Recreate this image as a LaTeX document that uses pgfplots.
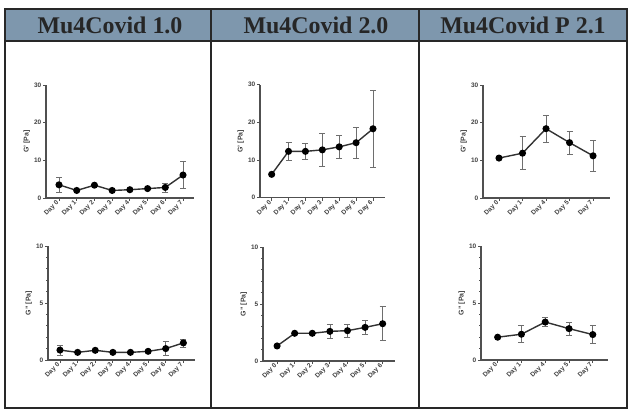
\documentclass[border=0pt]{standalone}
\usepackage{pgfplots}
\pgfplotsset{compat=1.18}
\usepackage{pgfplotstable}
\usepackage{fontspec}
\setmainfont{Liberation Sans}
\newfontfamily\headfont{Liberation Serif}

\definecolor{headfill}{RGB}{126,151,173}
\definecolor{rule}{RGB}{40,40,40}
\definecolor{axisgray}{RGB}{80,80,80}
\definecolor{linegray}{RGB}{50,50,50}
\definecolor{errgray}{RGB}{110,110,110}

% Storage modulus G' and loss modulus G'' (mean and SD) per formulation
\pgfplotstableread{
x y e
0 3.5 2.1
1 2.0 0.3
2 3.4 0.3
3 2.0 0.2
4 2.2 0.2
5 2.5 0.3
6 2.8 1.2
7 6.1 3.6
}\gpA
\pgfplotstableread{
x y e
0 0.87 0.42
1 0.67 0.10
2 0.85 0.10
3 0.67 0.08
4 0.67 0.08
5 0.76 0.10
6 1.00 0.62
7 1.50 0.35
}\gppA
\pgfplotstableread{
x y e
0 6.2 0.3
1 12.3 2.3
2 12.3 2.2
3 12.7 4.4
4 13.5 3.1
5 14.6 4.1
6 18.3 10.2
}\gpB
\pgfplotstableread{
x y e
0 1.32 0.05
1 2.43 0.08
2 2.43 0.08
3 2.60 0.62
4 2.66 0.57
5 2.95 0.65
6 3.27 1.50
}\gppB
\pgfplotstableread{
x y e
0 10.6 0.3
1 11.9 4.4
2 18.4 3.6
3 14.7 3.1
4 11.2 4.1
}\gpC
\pgfplotstableread{
x y e
0 2.00 0.05
1 2.26 0.75
2 3.33 0.40
3 2.75 0.58
4 2.23 0.77
}\gppC

\pgfplotsset{
  prism/.style={
    scale only axis,
    anchor=south west,
    axis lines*=left,
    axis line style={draw=axisgray, line width=1.2bp},
    every tick/.style={draw=axisgray, line width=0.9bp},
    tick align=outside,
    major tick length=3bp,
    minor tick length=1.8bp,
    ymin=0,
    clip=false,
    /pgf/number format/assume math mode=true,
    ticklabel style={font=\fontsize{6.5}{7}\selectfont\bfseries, text=black!75},
    yticklabel style={inner sep=1.5bp},
    xticklabel style={rotate=45, anchor=east, inner sep=1.5bp},
    ylabel style={font=\fontsize{7}{8}\selectfont\bfseries, text=black!75, yshift=-1bp},
  },
  gprime/.style={prism, ymax=30, ytick={0,10,20,30}, height=113bp, ylabel={G' [Pa]}},
  gdprime/.style={prism, ymax=10, ytick={0,5,10}, minor y tick num=4, height=114bp, ylabel={G'' [Pa]}},
  series/.style={
    draw=linegray, line width=1.4bp,
    mark=*, mark size=2.8bp, mark options={fill=black, draw=black},
    error bars/.cd, y dir=both, y explicit,
    error bar style={draw=errgray, line width=0.7bp},
    error mark=-,
    error mark options={rotate=90, draw=errgray, line width=0.7bp, mark size=3bp},
  },
}

\begin{document}
\begin{tikzpicture}
\path[use as bounding box] (0bp,0bp) rectangle (630bp,410bp);

% table header and frame
\fill[headfill] (5bp,401bp) rectangle (627bp,369bp);
\draw[rule, line width=1.4bp] (5bp,401bp) rectangle (627bp,2bp);
\draw[rule, line width=1.4bp] (5bp,369bp) -- (627bp,369bp);
\draw[rule, line width=1.4bp] (211bp,401bp) -- (211bp,2bp);
\draw[rule, line width=1.4bp] (419bp,401bp) -- (419bp,2bp);
\node[font=\headfont\bfseries\fontsize{24}{28}\selectfont, text=black!85] at (110bp,385bp) {Mu4Covid 1.0};
\node[font=\headfont\bfseries\fontsize{24}{28}\selectfont, text=black!85] at (316bp,385bp) {Mu4Covid 2.0};
\node[font=\headfont\bfseries\fontsize{24}{28}\selectfont, text=black!85] at (523bp,385bp) {Mu4Covid P 2.1};

% Mu4Covid 1.0
\begin{axis}[gprime, at={(46bp,212bp)}, width=148bp, xmin=-0.734, xmax=7.62,
  xtick={0,...,7}, xticklabels={Day 0,Day 1,Day 2,Day 3,Day 4,Day 5,Day 6,Day 7}]
  \addplot[series] table[x=x, y=y, y error=e] {\gpA};
\end{axis}
\begin{axis}[gdprime, at={(48bp,50bp)}, width=147bp, xmin=-0.68, xmax=7.66,
  xtick={0,...,7}, xticklabels={Day 0,Day 1,Day 2,Day 3,Day 4,Day 5,Day 6,Day 7}]
  \addplot[series] table[x=x, y=y, y error=e] {\gppA};
\end{axis}

% Mu4Covid 2.0
\begin{axis}[gprime, at={(260bp,212.3bp)}, width=125bp, xmin=-0.69, xmax=6.71,
  xtick={0,...,6}, xticklabels={Day 0,Day 1,Day 2,Day 3,Day 4,Day 5,Day 6}]
  \addplot[series] table[x=x, y=y, y error=e] {\gpB};
\end{axis}
\begin{axis}[gdprime, at={(263bp,49bp)}, width=132bp, xmin=-0.8, xmax=6.7,
  xtick={0,...,6}, xticklabels={Day 0,Day 1,Day 2,Day 3,Day 4,Day 5,Day 6}]
  \addplot[series] table[x=x, y=y, y error=e] {\gppB};
\end{axis}

% Mu4Covid P 2.1
\begin{axis}[gprime, at={(483bp,212bp)}, width=127bp, xmin=-0.68, xmax=4.72,
  xtick={0,...,4}, xticklabels={Day 0,Day 1,Day 4,Day 5,Day 7}]
  \addplot[series] table[x=x, y=y, y error=e] {\gpC};
\end{axis}
\begin{axis}[gdprime, at={(481bp,50bp)}, width=127bp, xmin=-0.70, xmax=4.64,
  xtick={0,...,4}, xticklabels={Day 0,Day 1,Day 4,Day 5,Day 7}]
  \addplot[series] table[x=x, y=y, y error=e] {\gppC};
\end{axis}
\end{tikzpicture}
\end{document}
